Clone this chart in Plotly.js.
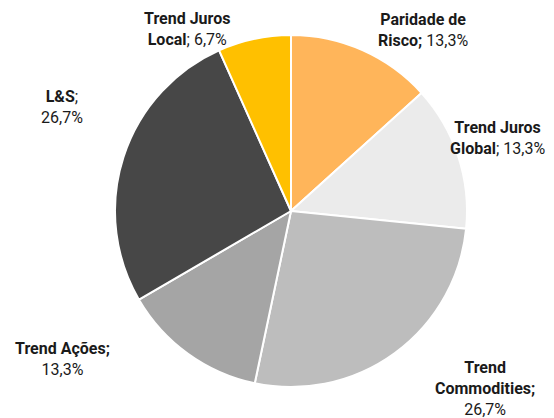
<!DOCTYPE html>
<html><head><meta charset="utf-8">
<script src="https://cdn.plot.ly/plotly-3.0.1.min.js"></script>
<style>html,body{margin:0;padding:0;background:#fff}</style>
</head><body><div id="chart" style="width:554px;height:418px"></div>
<script>
const labels = ["Paridade de Risco","Trend Juros Global","Trend Commodities","Trend Ações","L&S","Trend Juros Local"];
const values = [13.3, 13.3, 26.7, 13.3, 26.7, 6.7];
const valueText = ["13,3%","13,3%","26,7%","13,3%","26,7%","6,7%"];
const labelText = [
  "<b>Paridade de</b><br><b>Risco;</b> ",
  "<b>Trend Juros</b><br><b>Global</b>; ",
  "<b>Trend</b><br><b>Commodities;</b><br>",
  "<b>Trend Ações;</b><br>",
  "<b>L&S</b>;<br>",
  "<b>Trend Juros</b><br><b>Local</b>; "
];
const colors = ["#FFB55A","#EBEBEB","#BDBDBD","#A5A5A5","#474747","#FFC000"];
const labelPos = [[423,30],[497,138],[485,388],[62,359],[62,107],[187,29]];

const W=554,H=418;
const M={l:115,r:87,t:35,b:31};
const pw=W-M.l-M.r, ph=H-M.t-M.b;
const annotations = labels.map((l,i)=>({
  x: (labelPos[i][0]-M.l)/pw, y: 1-(labelPos[i][1]-M.t)/ph, xref:'paper', yref:'paper',
  text: labelText[i]+valueText[i], showarrow:false, align:'center',
  xanchor:'center', yanchor:'middle',
  font:{family:'Roboto', size:16, color:'#1a1a1a'}
}));

Plotly.newPlot('chart',[{
  type:'pie', labels:labels, values:values, sort:false, direction:'clockwise',
  rotation:0, textinfo:'none', hoverinfo:'label+percent',
  marker:{colors:colors, line:{color:'#ffffff', width:2}}
}],{
  width:W, height:H, showlegend:false,
  margin:M,
  paper_bgcolor:'#fff', annotations:annotations,
  font:{family:'Roboto'}
},{displayModeBar:false, staticPlot:true});
</script></body></html>
